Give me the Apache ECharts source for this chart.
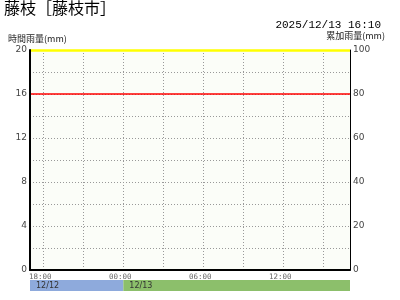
<!DOCTYPE html>
<html><head><meta charset="utf-8">
<script src="https://cdn.jsdelivr.net/npm/echarts@6/dist/echarts.min.js"></script>
<style>html,body{margin:0;padding:0;background:#fff}#c{width:400px;height:300px}</style>
</head><body><div id="c"></div>
<script>
var stationTitle = '藤枝［藤枝市］';
var timestamp = '2025/12/13 16:10';
var hours = ['17:00','18:00','19:00','20:00','21:00','22:00','23:00','00:00','01:00','02:00','03:00','04:00','05:00','06:00','07:00','08:00','09:00','10:00','11:00','12:00','13:00','14:00','15:00','16:00','17:00'];
var hourlyRain = [null,0,0,0,0,0,0,0,0,0,0,0,0,0,0,0,0,0,0,0,0,0,0,0,null];
var cumulativeRain = [null,0,0,0,0,0,0,0,0,0,0,0,0,0,0,0,0,0,0,0,0,0,0,0,null];
var shownHourLabels = ['18:00','00:00','06:00','12:00'];
var leftTicks = [0,4,8,12,16,20];
var rightTicks = [0,20,40,60,80,100];
var warningLevel = 16;
var topLevel = 20;
var dateBands = [{label:'12/12', fromIdx:0, toIdx:7, color:'#8eaadc'},{label:'12/13', fromIdx:7, toIdx:24, color:'#8cbf6b'}];

var chart = echarts.init(document.getElementById('c'), null, {renderer:'canvas'});
chart.setOption({
  animation:false,
  backgroundColor:'#fff',
  title:[
    {text:stationTitle, left:4, top:0, padding:0, textStyle:{fontFamily:'"Noto Sans CJK JP", sans-serif', fontSize:16, fontWeight:'normal', color:'#000'}},
    {text:timestamp, right:19, top:20, padding:0, textStyle:{fontFamily:'"Liberation Mono", monospace', fontSize:11, fontWeight:'normal', color:'#000'}},
    {text:'時間雨量(mm)', left:8, top:34, padding:0, textStyle:{fontFamily:'"Noto Sans CJK JP", sans-serif', fontSize:9, fontWeight:'normal', color:'#222'}},
    {text:'累加雨量(mm)', right:15, top:31, padding:0, textStyle:{fontFamily:'"Noto Sans CJK JP", sans-serif', fontSize:9, fontWeight:'normal', color:'#222'}}
  ],
  grid:[
    {left:30, right:50, top:50, height:220, show:true, backgroundColor:'#fbfdf8', borderWidth:0},
    {left:30, right:50, top:280, height:11, show:false}
  ],
  xAxis:[
    {type:'category', gridIndex:0, data:hours, boundaryGap:false, z:5,
     axisLine:{lineStyle:{color:'#000', width:2}}, axisTick:{show:false},
     axisLabel:{interval:0, margin:3, fontSize:7.5, color:'#666', fontFamily:'"DejaVu Sans Mono", monospace', padding:[0,6,0,0],
       formatter:function(v, i){ return (shownHourLabels.indexOf(v) >= 0 && i > 0 && i < 24) ? v : ''; }},
     splitLine:{show:true, interval:function(i){ return i % 3 === 1; }, lineStyle:{color:'#999', type:[1,2], width:1}}},
    {type:'category', gridIndex:1, data:hours, boundaryGap:false, show:false}
  ],
  yAxis:[
    {type:'value', gridIndex:0, min:0, max:20, interval:2, position:'left', z:5,
     axisLine:{show:true, lineStyle:{color:'#000', width:2}}, axisTick:{show:false},
     axisLabel:{margin:3, fontSize:9, color:'#444', fontFamily:'"DejaVu Sans", sans-serif',
       formatter:function(v){ return leftTicks.indexOf(v) >= 0 ? String(v) : ''; }},
     splitLine:{show:true, lineStyle:{color:'#999', type:[1,2], width:1}}},
    {type:'value', gridIndex:0, min:0, max:100, interval:10, position:'right', z:5,
     axisLine:{show:true, lineStyle:{color:'#000', width:1}}, axisTick:{show:false},
     axisLabel:{margin:3, fontSize:9, color:'#444', fontFamily:'"DejaVu Sans", sans-serif',
       formatter:function(v){ return rightTicks.indexOf(v) >= 0 ? String(v) : ''; }},
     splitLine:{show:false}},
    {type:'value', gridIndex:1, min:0, max:1, show:false}
  ],
  series:[
    {type:'bar', xAxisIndex:0, yAxisIndex:0, data:hourlyRain, barWidth:10, itemStyle:{color:'#3a6fd8'},
     markLine:{silent:true, symbol:'none', label:{show:false},
       data:[{yAxis:warningLevel, lineStyle:{color:'#ff0000', width:1.5, type:'solid'}},
             {yAxis:topLevel, lineStyle:{color:'#ffff00', width:2.5, type:'solid'}}]}},
    {type:'line', xAxisIndex:0, yAxisIndex:1, data:cumulativeRain, symbol:'none', z:1, lineStyle:{color:'#f08030', width:1}},
    {type:'line', xAxisIndex:1, yAxisIndex:2, data:[], symbol:'none',
     markArea:{silent:true,
       data: dateBands.map(function(b){ return [
         {xAxis:b.fromIdx, itemStyle:{color:b.color}, label:{show:true, position:'insideLeft', distance:6, formatter:b.label, fontSize:8, color:'#333', fontFamily:'"DejaVu Sans", sans-serif'}},
         {xAxis:b.toIdx}]; })}}
  ]
});
</script></body></html>
